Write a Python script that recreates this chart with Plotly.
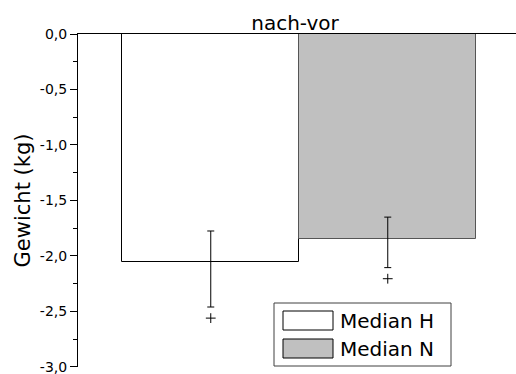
import plotly.graph_objects as go

# Data
categories = [1, 2]
series_names = ["Median H", "Median N"]
medians = [-2.05, -1.85]
err_plus = [0.275, 0.20]
err_minus = [0.41, 0.255]
outliers = [-2.56, -2.205]
fill_colors = ["#FFFFFF", "#C0C0C0"]
edge_colors = ["#000000", "#555555"]
y_tickvals = [0.0, -0.5, -1.0, -1.5, -2.0, -2.5, -3.0]
y_ticktext = ["0,0", "-0,5", "-1,0", "-1,5", "-2,0", "-2,5", "-3,0"]
y_minor_tickvals = [-0.25, -0.75, -1.25, -1.75, -2.25, -2.75]
title_text = "nach-vor"
y_title = "Gewicht (kg)"

FONT = "DejaVu Sans, Liberation Sans, Arial, sans-serif"

fig = go.Figure()
for i in range(2):
    fig.add_trace(go.Bar(
        x=[categories[i]], y=[medians[i]], width=1.0,
        marker=dict(color=fill_colors[i], line=dict(color=edge_colors[i], width=1)),
        error_y=dict(type="data", symmetric=False, array=[err_plus[i]],
                     arrayminus=[err_minus[i]], color="#000000", thickness=1, width=3.5),
        name=series_names[i], showlegend=False,
    ))
fig.add_trace(go.Scatter(
    x=categories, y=outliers, mode="markers",
    marker=dict(symbol="cross-thin", size=7, line=dict(color="#000000", width=1)),
    showlegend=False, hoverinfo="skip",
))

# custom legend (paper coords)
W, H = 516, 374
ml, mr, mt, mb = 78, 0, 34, 7
pw, ph = W - ml - mr, H - mt - mb
def px(x): return (x - ml) / pw
def py(y): return (H - mb - y) / ph

shapes = [dict(type="rect", xref="paper", yref="paper",
               x0=px(274), x1=px(451), y0=py(366), y1=py(303),
               line=dict(color="#404040", width=1), fillcolor="#FFFFFF", layer="above")]
annotations = []
for i, (top, bot) in enumerate([(311, 330), (339, 358)]):
    shapes.append(dict(type="rect", xref="paper", yref="paper",
                       x0=px(283), x1=px(333), y0=py(bot), y1=py(top),
                       line=dict(color="#000000", width=1), fillcolor=fill_colors[i], layer="above"))
    annotations.append(dict(xref="paper", yref="paper", x=px(338), y=py((top + bot) / 2),
                            text=series_names[i], showarrow=False, xanchor="left", yanchor="middle",
                            font=dict(family=FONT, size=20, color="#000000")))

fig.update_layout(
    width=W, height=H,
    margin=dict(l=ml, r=mr, t=mt, b=mb, autoexpand=False),
    paper_bgcolor="#FFFFFF", plot_bgcolor="#FFFFFF",
    font=dict(family=FONT, color="#000000"),
    bargap=0,
    title=dict(text=title_text, xref="paper", x=px(295), xanchor="center",
               yref="container", y=1 - 23 / H, yanchor="middle",
               font=dict(family=FONT, size=20, color="#000000")),
    xaxis=dict(range=[0.25, 0.25 + pw / 177.0], showticklabels=False, ticks="",
               showline=True, linecolor="#000000", linewidth=1, side="top",
               showgrid=False, zeroline=False, fixedrange=True, automargin=False),
    yaxis=dict(range=[-3.0005, 0.0], tickvals=y_tickvals, ticktext=y_ticktext,
               ticks="outside", ticklen=7, tickwidth=1, tickcolor="#000000",
               ticklabeloverflow="allow",
               minor=dict(ticks="outside", ticklen=4, tickvals=y_minor_tickvals,
                          tickcolor="#000000", tickwidth=1),
               showline=True, linecolor="#000000", linewidth=1,
               showgrid=False, zeroline=False, automargin=False,
               tickfont=dict(family=FONT, size=14, color="#000000"),
               title=dict(text=y_title, font=dict(family=FONT, size=21, color="#000000"), standoff=3)),
    shapes=shapes, annotations=annotations,
)
fig.write_html("out.html")
